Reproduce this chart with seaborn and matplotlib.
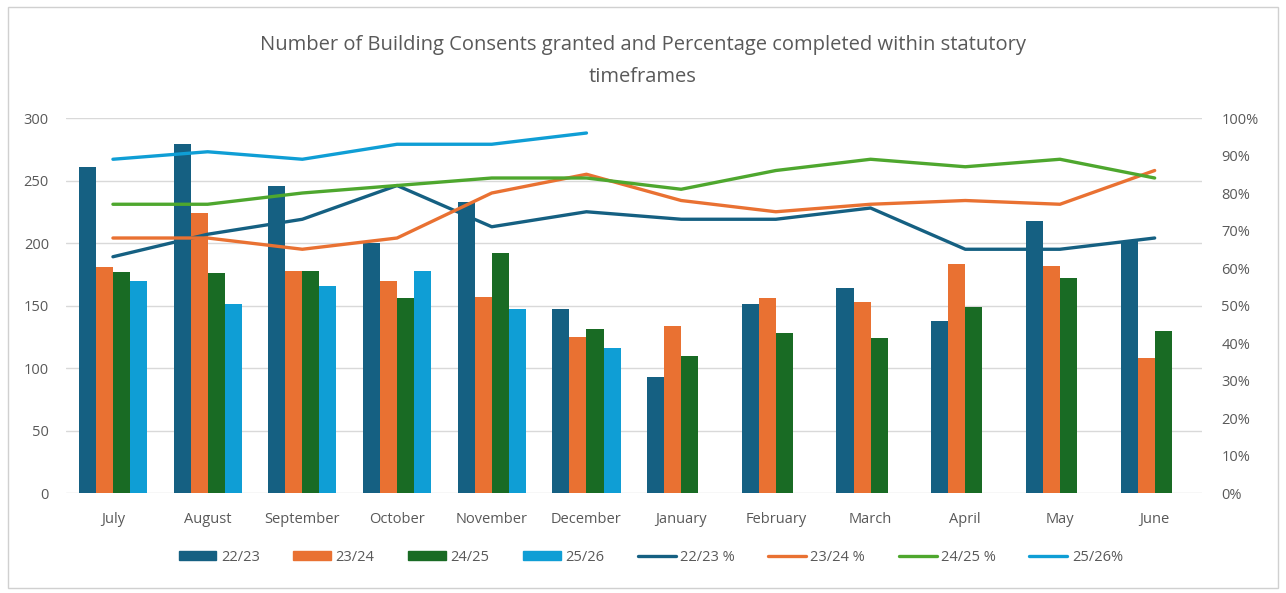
import numpy as np
import pandas as pd
import seaborn as sns
import matplotlib.pyplot as plt
from matplotlib.patches import Patch, Rectangle
from matplotlib.lines import Line2D
from matplotlib.ticker import PercentFormatter, MultipleLocator

months = ['July', 'August', 'September', 'October', 'November', 'December',
          'January', 'February', 'March', 'April', 'May', 'June']

# consents granted per year
c_2223 = [261, 279, 246, 200, 233, 147, 93, 151, 164, 138, 218, 202]
c_2324 = [181, 224, 178, 170, 157, 125, 134, 156, 153, 183, 182, 108]
c_2425 = [177, 176, 178, 156, 192, 131, 110, 128, 124, 149, 172, 130]
c_2526 = [170, 151, 166, 178, 147, 116, None, None, None, None, None, None]

# percent completed within statutory timeframes
p_2223 = [0.63, 0.69, 0.73, 0.82, 0.71, 0.75, 0.73, 0.73, 0.76, 0.65, 0.65, 0.68]
p_2324 = [0.68, 0.68, 0.65, 0.68, 0.80, 0.85, 0.78, 0.75, 0.77, 0.78, 0.77, 0.86]
p_2425 = [0.77, 0.77, 0.80, 0.82, 0.84, 0.84, 0.81, 0.86, 0.89, 0.87, 0.89, 0.84]
p_2526 = [0.89, 0.91, 0.89, 0.93, 0.93, 0.96, None, None, None, None, None, None]

bar_names = ['22/23', '23/24', '24/25', '25/26']
line_names = ['22/23 %', '23/24 %', '24/25 %', '25/26%']
bar_cols = ['#156082', '#E97132', '#196B24', '#0F9ED5']
line_cols = ['#156082', '#E97132', '#4EA72E', '#0F9ED5']

rows = []
for name, vals in zip(bar_names, [c_2223, c_2324, c_2425, c_2526]):
    for m, v in zip(months, vals):
        rows.append({'month': m, 'series': name, 'value': v})
bars = pd.DataFrame(rows).dropna()

rows = []
for name, vals in zip(line_names, [p_2223, p_2324, p_2425, p_2526]):
    for i, (m, v) in enumerate(zip(months, vals)):
        rows.append({'pos': i, 'series': name, 'pct': v})
lines = pd.DataFrame(rows).dropna()

sns.set_theme(style='white')
plt.rcParams['font.family'] = ['Open Sans', 'DejaVu Sans']
grey = '#595959'

fig = plt.figure(figsize=(12.86, 5.93), dpi=100)
ax = fig.add_axes([0.051, 0.1686, 0.8837, 0.6324])
ax2 = ax.twinx()

sns.barplot(data=bars, x='month', y='value', hue='series', order=months,
            hue_order=bar_names, palette=dict(zip(bar_names, bar_cols)),
            width=0.72, saturation=1, errorbar=None, legend=False,
            linewidth=0, ax=ax)

sns.lineplot(data=lines, x='pos', y='pct', hue='series', hue_order=line_names,
             palette=dict(zip(line_names, line_cols)), linewidth=2.4,
             legend=False, ax=ax2, solid_capstyle='round', solid_joinstyle='round')

ax.set_xlim(-0.5, len(months) - 0.5)
ax.set_ylim(0, 300)
ax.yaxis.set_major_locator(MultipleLocator(50))
ax2.set_ylim(0, 1)
ax2.yaxis.set_major_locator(MultipleLocator(0.1))
ax2.yaxis.set_major_formatter(PercentFormatter(1.0, decimals=0))

ax.set_axisbelow(True)
ax.grid(axis='y', color='#d9d9d9', linewidth=1)
ax.grid(axis='x', visible=False)
ax2.grid(False)
for a in (ax, ax2):
    for s in a.spines.values():
        s.set_visible(False)
    a.set_xlabel('')
    a.set_ylabel('')
ax.tick_params(axis='both', length=0, colors=grey, labelsize=10.5)
ax.tick_params(axis='x', pad=14)
ax.tick_params(axis='y', pad=12)
ax2.tick_params(axis='y', length=0, colors=grey, labelsize=10.5, pad=14)

fig.text(0.5, 0.897, 'Number of Building Consents granted and Percentage completed within statutory\ntimeframes',
         ha='center', va='center', fontsize=14.5, color=grey, linespacing=1.75)

handles = [Patch(facecolor=c, edgecolor=c) for c in bar_cols]
handles += [Line2D([0], [0], color=c, linewidth=2.4, solid_capstyle='round') for c in line_cols]
fig.legend(handles, bar_names + line_names, loc='center', bbox_to_anchor=(0.506, 0.06),
           ncol=8, frameon=False, fontsize=10.5, labelcolor=grey,
           handlelength=2.6, handleheight=0.6, handletextpad=0.3, columnspacing=2.3)

fig.patches.append(Rectangle((0.006, 0.008), 0.988, 0.98, transform=fig.transFigure,
                             fill=False, edgecolor='#d0d0d0', linewidth=1))

fig.savefig('out.png', dpi=100, facecolor='white')
